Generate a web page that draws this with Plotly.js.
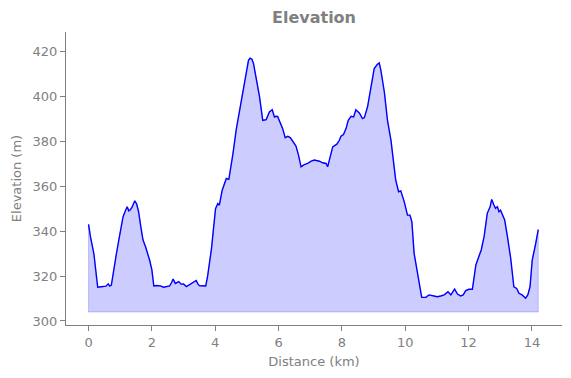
<!DOCTYPE html>
<html>
<head>
<meta charset="utf-8">
<script src="https://cdn.plot.ly/plotly-3.0.1.min.js"></script>
<style>html,body{margin:0;padding:0;background:#fff;}#chart{width:571px;height:378px;}</style>
</head>
<body>
<div id="chart"></div>
<script>
// Distance along the route (km)
const distanceKm = [0.00,0.06,0.17,0.25,0.29,0.40,0.55,0.62,0.67,0.72,0.80,0.88,0.955,1.02,1.09,1.17,1.22,1.27,1.32,1.37,1.46,1.52,1.58,1.65,1.72,1.80,1.87,1.93,2.00,2.06,2.15,2.27,2.37,2.46,2.56,2.62,2.67,2.74,2.80,2.85,2.92,3.00,3.09,3.18,3.28,3.40,3.45,3.51,3.60,3.70,3.76,3.82,3.88,3.93,4.01,4.08,4.13,4.22,4.29,4.35,4.43,4.50,4.56,4.66,4.74,4.82,4.89,4.98,5.05,5.10,5.16,5.21,5.29,5.40,5.50,5.61,5.71,5.80,5.87,5.92,5.97,6.06,6.13,6.21,6.29,6.37,6.45,6.55,6.63,6.71,6.81,6.92,7.03,7.13,7.29,7.39,7.50,7.55,7.63,7.71,7.84,7.92,7.97,8.05,8.13,8.20,8.29,8.37,8.44,8.55,8.65,8.71,8.81,8.92,9.02,9.12,9.18,9.23,9.34,9.44,9.55,9.62,9.70,9.79,9.86,9.97,10.07,10.15,10.21,10.28,10.42,10.52,10.65,10.75,10.91,11.01,11.12,11.23,11.35,11.44,11.56,11.65,11.75,11.83,11.91,12.01,12.12,12.17,12.23,12.33,12.40,12.49,12.59,12.68,12.73,12.80,12.85,12.91,12.96,13.01,13.09,13.14,13.22,13.33,13.43,13.52,13.59,13.69,13.80,13.87,13.94,14.01,14.11,14.20];
// Elevation (m)
const elevationM = [343,337.5,329.8,318.2,315,315.2,315.5,316.5,315.5,316,324,330,336,341,346.4,349.3,350.8,349,349.5,350.5,353.5,352,348.6,342,336,333,330,327,322.7,315.6,315.8,315.6,315,315.4,315.6,317,318.7,316.7,317.2,317.5,316.4,316.5,315.3,316.2,316.8,318,316.5,315.6,315.7,315.6,320,325.6,332,339,350,352.3,351.5,358.2,361,363.4,363,369,374.5,384.9,391,397.5,402.7,410,416,417,416.5,414.5,408.6,399.7,389.3,389.6,393,394,390.8,391.1,391,387.9,385.6,381.6,382.2,381.6,379.7,377.8,373.8,368.6,369.6,370.1,371.1,371.6,371.1,370.4,370.1,368.6,373,377.5,378.7,380.4,382.2,383,385.6,389.3,391.1,390.8,394,392.6,390.1,390.5,395.3,404.1,412.3,414.2,414.8,411.6,401.9,389.3,380.4,372,362.7,357.5,357.9,353,347.1,347.1,344.1,330.1,319.7,310.5,310.5,311.6,311.1,310.8,311.1,311.6,313,311.6,314.2,312,311.1,311.6,313.5,314.1,314.1,318.2,324.9,328.9,331.6,337.5,347.9,350.8,354.1,351.6,350.1,350.8,348.6,349.3,346.7,344.9,338.2,327.9,315.2,314.5,312.3,311.6,310.1,311.6,315.2,327.1,333.8,340.7];
// Fill baseline (m)
const baseElevation = 304;
const xTicks = [0,2,4,6,8,10,12,14];
const yTicks = [300,320,340,360,380,400,420];

const lastX = distanceKm[distanceKm.length - 1];
const fillX = [distanceKm[0]].concat(distanceKm, [lastX, distanceKm[0]]);
const fillY = [baseElevation].concat(elevationM, [baseElevation, baseElevation]);

const gray = '#808080';
const font = {family: 'DejaVu Sans', size: 13, color: gray};

const traces = [
  {x: fillX, y: fillY, type: 'scatter', mode: 'lines', fill: 'toself',
   fillcolor: 'rgba(0,0,255,0.2)', line: {color: 'rgba(0,0,255,0.2)', width: 1},
   hoverinfo: 'skip', showlegend: false},
  {x: distanceKm, y: elevationM, type: 'scatter', mode: 'lines',
   line: {color: '#0000ff', width: 1.4}, showlegend: false}
];

const axisCommon = {
  showgrid: false, zeroline: false, showline: true, linecolor: gray, linewidth: 1,
  ticks: 'outside', ticklen: 5, tickwidth: 1, tickcolor: gray,
  tickfont: font, mirror: false
};

const layout = {
  width: 571, height: 378,
  margin: {l: 66, r: 9, t: 32, b: 53, pad: 0},
  paper_bgcolor: '#fff', plot_bgcolor: '#fff',
  title: {text: '<b>Elevation</b>', font: {family: 'DejaVu Sans', size: 16, color: gray},
          x: 0.5, xref: 'paper', y: 0.953, yref: 'container', xanchor: 'center', yanchor: 'middle'},
  xaxis: Object.assign({}, axisCommon, {
    range: [-0.712, 14.95], tickvals: xTicks, ticktext: xTicks.map(String),
    title: {text: 'Distance (km)', font: font, standoff: 8}
  }),
  yaxis: Object.assign({}, axisCommon, {
    range: [298.2, 428.6], tickvals: yTicks, ticktext: yTicks.map(String),
    title: {text: 'Elevation (m)', font: font, standoff: 8}
  })
};

Plotly.newPlot('chart', traces, layout, {displayModeBar: false, staticPlot: true});
</script>
</body>
</html>
